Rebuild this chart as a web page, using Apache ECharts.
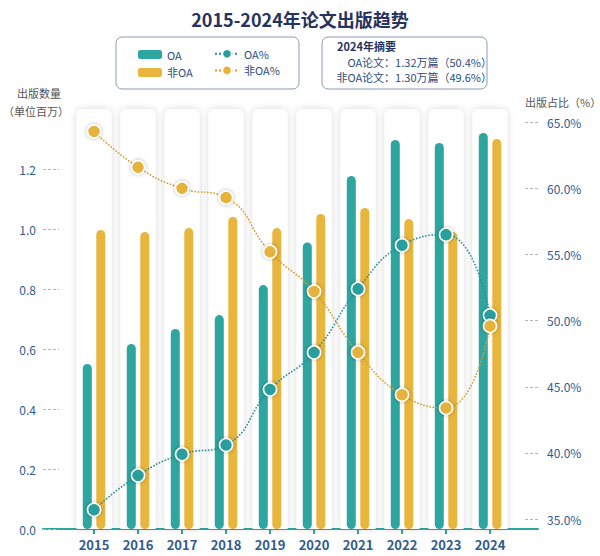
<!DOCTYPE html>
<html><head><meta charset="utf-8">
<script src="https://cdn.jsdelivr.net/npm/echarts@6/dist/echarts.min.js"></script>
<style>html,body{margin:0;padding:0;background:#fff;}#c{width:600px;height:556px;}</style>
</head><body><div id="c"></div>
<script>
// ---- data ----
const years = ['2015','2016','2017','2018','2019','2020','2021','2022','2023','2024'];
const oaCount = [0.55, 0.617, 0.667, 0.713, 0.813, 0.955, 1.177, 1.297, 1.287, 1.32];
const nonOaCount = [0.997, 0.99, 1.003, 1.04, 1.003, 1.05, 1.07, 1.033, 0.99, 1.30];
const oaShare = [35.7, 38.3, 39.9, 40.6, 44.8, 47.6, 52.4, 55.7, 56.5, 50.4];
const nonOaShare = [64.3, 61.6, 60.0, 59.3, 55.2, 52.2, 47.6, 44.4, 43.4, 49.6];
const countTicks = [0, 0.2, 0.4, 0.6, 0.8, 1.0, 1.2];
const shareTicks = [35, 40, 45, 50, 55, 60, 65];
const summaryTitle = '2024年摘要';
const summaryLines = ['OA论文：1.32万篇（50.4%）', '非OA论文：1.30万篇（49.6%）'];

const countMax = 1.4;
const FONT = '"Noto Sans CJK SC", "Noto Sans", sans-serif';
const TEAL = '#2ea6a0', GOLD = '#e8b63c';
const NAVY = '#2f5b8e';
const idx = years.map((y, i) => i);
const xMin = -1.16, xMax = 10.09;

const chart = echarts.init(document.getElementById('c'), null, {renderer: 'svg'});
chart.setOption({
  backgroundColor: '#fff',
  textStyle: {fontFamily: FONT},
  title: {
    text: '2015-2024年论文出版趋势', left: 'center', top: 5,
    textStyle: {fontFamily: FONT, fontSize: 18, fontWeight: 'bold', color: '#27335f'}
  },
  legend: [{
    data: ['OA', '非OA'], orient: 'vertical', left: 133, top: 44,
    itemWidth: 24, itemHeight: 9, itemGap: 7,
    textStyle: {fontFamily: FONT, fontSize: 11, color: '#2d4d7c'}
  }, {
    data: ['OA%', '非OA%'], orient: 'vertical', left: 209, top: 43,
    itemWidth: 24, itemHeight: 12, itemGap: 5,
    textStyle: {fontFamily: FONT, fontSize: 11, color: '#2d4d7c'}
  }],
  grid: {left: 43, right: 62, top: 109, bottom: 27},
  xAxis: [{
    type: 'value', min: xMin, max: xMax,
    splitLine: {show: false},
    axisLine: {show: true, onZero: false, lineStyle: {color: TEAL, width: 2}},
    axisTick: {show: true, customValues: idx, length: 5, lineStyle: {color: TEAL, width: 2}},
    axisLabel: {customValues: idx, formatter: v => years[Math.round(v)], margin: 9,
      fontFamily: FONT, fontSize: 13, fontWeight: 'bold', color: NAVY}
  }, {
    type: 'value', min: xMin, max: xMax, show: false, axisLine: {onZero: false}
  }],
  yAxis: [{
    type: 'value', min: 0, max: countMax, position: 'left',
    splitLine: {show: false},
    axisLine: {show: false, onZero: false},
    axisTick: {show: true, inside: true, length: 16, customValues: countTicks,
      lineStyle: {color: '#b5b5b5', type: [3, 2], width: 1}},
    axisLabel: {customValues: countTicks, formatter: v => v.toFixed(1), margin: 7,
      fontFamily: FONT, fontSize: 12, color: NAVY}
  }, {
    type: 'value', min: 34.25, max: 66, position: 'right',
    splitLine: {show: false},
    axisLine: {show: false, onZero: false},
    axisTick: {show: true, inside: true, length: 14, customValues: shareTicks,
      lineStyle: {color: '#b5b5b5', type: [3, 2], width: 1}},
    axisLabel: {customValues: shareTicks, formatter: v => v.toFixed(1) + '%', margin: 9,
      fontFamily: FONT, fontSize: 12, color: NAVY}
  }],
  graphic: [
    {type: 'rect', shape: {x: 116, y: 37, width: 183, height: 52, r: 6},
      style: {fill: 'none', stroke: '#8c9bb5', lineWidth: 1}, z: 0},
    {type: 'rect', shape: {x: 322, y: 37, width: 165, height: 52, r: 6},
      style: {fill: 'none', stroke: '#8c9bb5', lineWidth: 1}, z: 0},
    {type: 'text', x: 337, y: 46, style: {text: summaryTitle, font: 'bold 11px ' + FONT,
      fill: '#27335f', textVerticalAlign: 'middle'}},
    {type: 'text', x: 492, y: 62, style: {text: summaryLines[0], font: '11px ' + FONT,
      fill: '#2d4d7c', textAlign: 'right', textVerticalAlign: 'middle'}},
    {type: 'text', x: 492, y: 77, style: {text: summaryLines[1], font: '11px ' + FONT,
      fill: '#2d4d7c', textAlign: 'right', textVerticalAlign: 'middle'}},
    {type: 'text', x: 39, y: 93, style: {text: '出版数量', font: '11px ' + FONT,
      fill: '#555', textAlign: 'center', textVerticalAlign: 'middle'}},
    {type: 'text', x: 36, y: 111, style: {text: '（单位百万）', font: '11px ' + FONT,
      fill: '#555', textAlign: 'center', textVerticalAlign: 'middle'}},
    {type: 'text', x: 525, y: 102, style: {text: '出版占比（%）', font: '11px ' + FONT,
      fill: '#555', textAlign: 'left', textVerticalAlign: 'middle'}}
  ],
  series: [{
    name: 'capsule', type: 'bar', xAxisIndex: 1, yAxisIndex: 0,
    data: idx.map(i => [i, countMax]), barWidth: 35, silent: true, z: 1,
    itemStyle: {color: '#fff', borderRadius: [6, 6, 0, 0],
      shadowBlur: 7, shadowColor: 'rgba(0,0,0,0.16)'}
  }, {
    name: 'OA', type: 'bar', xAxisIndex: 0, yAxisIndex: 0,
    data: idx.map(i => [i, oaCount[i]]), barWidth: 9, barGap: '50%', z: 2,
    itemStyle: {color: TEAL, borderRadius: 4.5}
  }, {
    name: '非OA', type: 'bar', xAxisIndex: 0, yAxisIndex: 0,
    data: idx.map(i => [i, nonOaCount[i]]), barWidth: 9, barGap: '50%', z: 2,
    itemStyle: {color: GOLD, borderRadius: 4.5}
  }, {
    name: 'OA%', type: 'line', xAxisIndex: 0, yAxisIndex: 1,
    data: idx.map(i => [i, oaShare[i]]), smooth: 0.5, z: 4,
    symbol: 'circle', symbolSize: 13,
    lineStyle: {color: '#2b8c9a', width: 1.6, type: 'dotted'},
    itemStyle: {color: '#2a9e9c', borderColor: '#fff', borderWidth: 1.5,
      shadowBlur: 4, shadowColor: 'rgba(0,0,0,0.3)'}
  }, {
    name: '非OA%', type: 'line', xAxisIndex: 0, yAxisIndex: 1,
    data: idx.map(i => [i, nonOaShare[i]]), smooth: 0.5, z: 4,
    symbol: 'circle', symbolSize: 13,
    lineStyle: {color: '#cf9f35', width: 1.6, type: 'dotted'},
    itemStyle: {color: '#e5b23a', borderColor: '#fff', borderWidth: 1.5,
      shadowBlur: 4, shadowColor: 'rgba(0,0,0,0.3)'}
  }]
});
</script></body></html>
